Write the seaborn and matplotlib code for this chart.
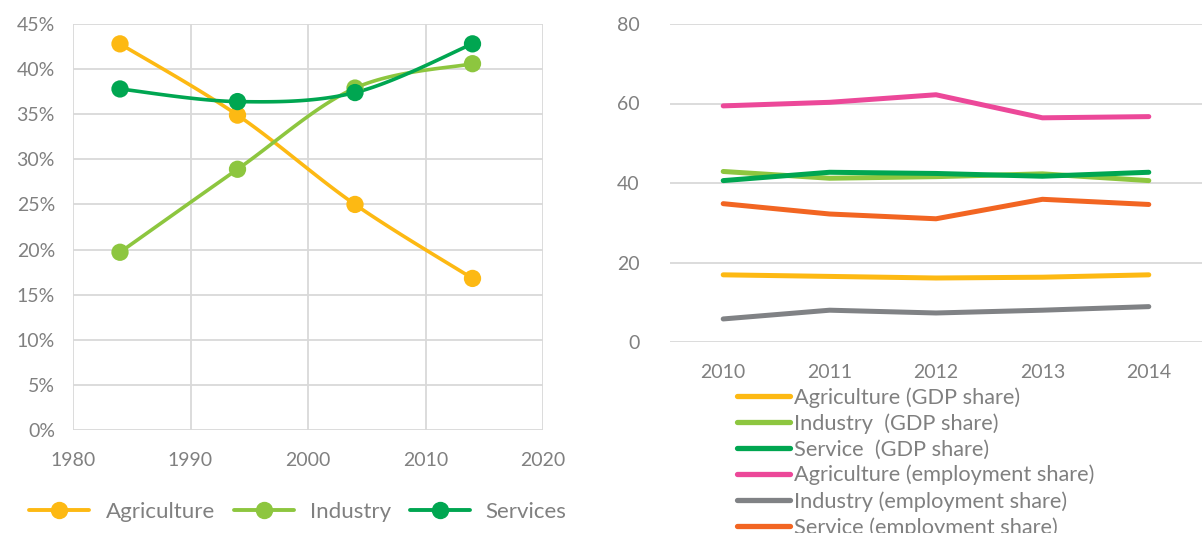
import numpy as np
import pandas as pd
import matplotlib
matplotlib.use("Agg")
import matplotlib.pyplot as plt
from matplotlib.lines import Line2D
import seaborn as sns

# ---------------- data ----------------
years_left = [1984, 1994, 2004, 2014]
agriculture = [42.8, 34.9, 25.0, 16.8]
industry = [19.7, 28.9, 37.9, 40.6]
services = [37.8, 36.4, 37.4, 42.8]
left_series = ["Agriculture", "Industry", "Services"]

years_right = ["2010", "2011", "2012", "2013", "2014"]
agri_gdp = [16.9, 16.5, 16.1, 16.3, 16.9]
ind_gdp = [42.9, 41.2, 41.6, 42.3, 40.6]
serv_gdp = [40.6, 42.7, 42.4, 41.7, 42.7]
agri_emp = [59.4, 60.3, 62.2, 56.4, 56.7]
ind_emp = [5.8, 8.0, 7.3, 8.0, 8.9]
serv_emp = [34.8, 32.2, 31.0, 35.9, 34.6]
right_series = ["Agriculture (GDP share)", "Industry  (GDP share)", "Service  (GDP share)",
                "Agriculture (employment share)", "Industry (employment share)",
                "Service (employment share)"]

# ---------------- style ----------------
sns.set_theme(style="white")
plt.rcParams['font.family'] = ['Lato', 'DejaVu Sans']
TXT = "#808080"
GRID = "#d9d9d9"
YEL, LGR, DGR = "#FDB913", "#8DC63F", "#00A651"
PNK, GRY, ORG = "#EC4899", "#808285", "#F26522"

fig = plt.figure(figsize=(12.03, 5.33), dpi=100)

# ---------------- left panel ----------------
axL = fig.add_axes([73/1203, 1-430/533, 470/1203, 406/533])


def smooth(x, y, n=40):
    """Catmull-Rom style smoothing (like Excel smoothed lines)."""
    x = np.asarray(x, float); y = np.asarray(y, float)
    px = np.concatenate([[x[0]], x, [x[-1]]])
    py = np.concatenate([[y[0]], y, [y[-1]]])
    xs, ys = [], []
    for i in range(1, len(px) - 2):
        p0, p1, p2, p3 = (np.array([px[j], py[j]]) for j in (i-1, i, i+1, i+2))
        c1 = p1 + (p2 - p0) / 6.0
        c2 = p2 - (p3 - p1) / 6.0
        t = np.linspace(0, 1, n)[:, None]
        b = ((1-t)**3)*p1 + 3*((1-t)**2)*t*c1 + 3*(1-t)*t**2*c2 + t**3*p2
        xs.append(b[:, 0]); ys.append(b[:, 1])
    return np.concatenate(xs), np.concatenate(ys)


left_vals = [agriculture, industry, services]
left_cols = [YEL, LGR, DGR]
rows = []
for name, vals in zip(left_series, left_vals):
    sx, sy = smooth(years_left, vals)
    for a, b in zip(sx, sy):
        rows.append((name, a, b))
curve_df = pd.DataFrame(rows, columns=["series", "year", "value"])
pts_df = pd.DataFrame([(n, yr, v) for n, vals in zip(left_series, left_vals)
                       for yr, v in zip(years_left, vals)],
                      columns=["series", "year", "value"])
pal_left = dict(zip(left_series, left_cols))

sns.lineplot(data=curve_df, x="year", y="value", hue="series", palette=pal_left,
             sort=False, estimator=None, linewidth=2.6, legend=False, ax=axL)
sns.scatterplot(data=pts_df, x="year", y="value", hue="series", palette=pal_left,
                s=155, edgecolor="none", legend=False, ax=axL, zorder=5)

axL.set_xlim(1980, 2020)
axL.set_ylim(0, 45)
axL.set_xticks(range(1980, 2021, 10))
axL.set_yticks(range(0, 46, 5))
axL.set_yticklabels([f"{v}%" for v in range(0, 46, 5)])
axL.grid(True, color=GRID, linewidth=1.3)
axL.set_axisbelow(True)
for s in axL.spines.values():
    s.set_visible(False)
axL.tick_params(axis="both", length=0, labelsize=14, labelcolor=TXT)
axL.tick_params(axis="y", pad=13)
axL.tick_params(axis="x", pad=16)
axL.set_xlabel(""); axL.set_ylabel("")

handles_L = [Line2D([0], [0], color=c, lw=2.8, marker="o", markersize=11.5)
             for c in left_cols]
fig.legend(handles_L, left_series, loc="center", bbox_to_anchor=(298/1203, 1-512/533),
           ncol=3, frameon=False, fontsize=16, labelcolor=TXT,
           handlelength=2.7, handletextpad=0.72, columnspacing=0.85)

# ---------------- right panel ----------------
axR = fig.add_axes([670/1203, 1-342/533, 532/1203, 318/533])
right_vals = [agri_gdp, ind_gdp, serv_gdp, agri_emp, ind_emp, serv_emp]
right_cols = [YEL, LGR, DGR, PNK, GRY, ORG]
df_r = pd.DataFrame([(n, yr, v) for n, vals in zip(right_series, right_vals)
                     for yr, v in zip(years_right, vals)],
                    columns=["series", "year", "value"])
pal_right = dict(zip(right_series, right_cols))
sns.lineplot(data=df_r, x="year", y="value", hue="series", palette=pal_right,
             linewidth=3.6, legend=False, ax=axR, sort=False)
for ln in axR.get_lines():
    ln.set_solid_capstyle("round")

axR.set_xlim(-0.5, 4.5)
axR.set_ylim(0, 80)
axR.set_yticks(range(0, 81, 20))
axR.yaxis.grid(True, color=GRID, linewidth=1.3)
axR.xaxis.grid(False)
axR.set_axisbelow(True)
for s in axR.spines.values():
    s.set_visible(False)
axR.tick_params(axis="both", length=0, labelsize=14, labelcolor=TXT)
axR.tick_params(axis="y", pad=22)
axR.tick_params(axis="x", pad=16)
axR.set_xlabel(""); axR.set_ylabel("")

handles_R = [Line2D([0], [0], color=c, lw=3.8, solid_capstyle="round") for c in right_cols]
fig.legend(handles_R, right_series, loc="upper left",
           bbox_to_anchor=(733/1203, 1-383/533), ncol=1, frameon=False,
           fontsize=15.7, labelcolor=TXT, handlelength=2.4, handletextpad=0.18,
           labelspacing=0.25, borderpad=0.2, borderaxespad=0)

fig.savefig("out.png", dpi=100)
